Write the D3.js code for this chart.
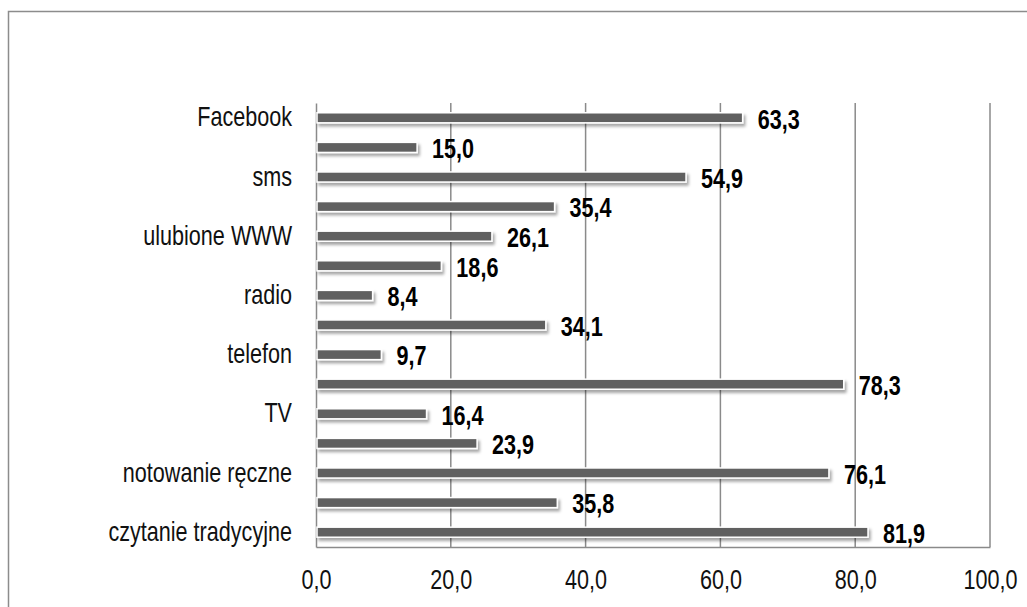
<!DOCTYPE html>
<html>
<head>
<meta charset="utf-8">
<script src="https://cdn.jsdelivr.net/npm/d3@7"></script>
<style>
  html, body { margin: 0; padding: 0; background: #fff; }
  svg { display: block; }
  text { font-family: "Liberation Sans", Arial, sans-serif; }
</style>
</head>
<body>
<svg id="chart" width="1027" height="607"></svg>
<script>
// Category labels, top to bottom (only every other row carries a label)
const categories = [
  "Facebook", "", "sms", "", "ulubione WWW", "", "radio", "",
  "telefon", "", "TV", "", "notowanie ręczne", "", "czytanie tradycyjne"
];
// Percent values, top to bottom
const values = [63.3, 15.0, 54.9, 35.4, 26.1, 18.6, 8.4, 34.1, 9.7, 78.3, 16.4, 23.9, 76.1, 35.8, 81.9];
// Value axis ticks
const xTicks = [0, 20, 40, 60, 80, 100];

const fmt = v => d3.format(".1f")(v).replace(".", ",");
const NARROW = 0.8;   // horizontal squeeze for a condensed look

const svg = d3.select("#chart");
const plot = { left: 316, right: 990, top: 103, bottom: 547 };

// Outer chart frame (runs past the right and bottom edges)
svg.append("rect")
  .attr("x", 8.5).attr("y", 11.5)
  .attr("width", 1040).attr("height", 640)
  .attr("fill", "#fff").attr("stroke", "#8c8c8c").attr("stroke-width", 1.5);

const defs = svg.append("defs");
const f = defs.append("filter").attr("id", "barShadow")
  .attr("x", "-5%").attr("y", "-60%").attr("width", "115%").attr("height", "260%");
f.append("feDropShadow")
  .attr("dx", 2).attr("dy", 3).attr("stdDeviation", 1.6)
  .attr("flood-color", "#000").attr("flood-opacity", 0.35);

const x = d3.scaleLinear().domain([0, 100]).range([plot.left, plot.right]);
const y = d3.scaleBand().domain(d3.range(values.length))
  .range([plot.top, plot.bottom]).paddingInner(0.66).paddingOuter(0.33);

// Vertical gridlines
svg.append("g")
  .selectAll("line")
  .data(xTicks.filter(t => t > 0))
  .join("line")
  .attr("x1", d => x(d)).attr("x2", d => x(d))
  .attr("y1", plot.top).attr("y2", plot.bottom)
  .attr("stroke", "#8a8a8a").attr("stroke-width", 1.5);

// Value axis
const xAxis = svg.append("g")
  .attr("transform", `translate(0,${plot.bottom})`)
  .call(d3.axisBottom(x).tickValues(xTicks).tickFormat(fmt).tickSize(0).tickPadding(23));
xAxis.select(".domain").attr("stroke", "#8a8a8a").attr("stroke-width", 1.5);
xAxis.selectAll("text")
  .attr("font-size", 27).attr("fill", "#111")
  .attr("transform", `scale(${NARROW},1)`);

// Category axis
const yAxis = svg.append("g")
  .attr("transform", `translate(${plot.left},0)`)
  .call(d3.axisLeft(y).tickFormat(i => categories[i]).tickSize(0).tickPadding(24));
yAxis.select(".domain").attr("stroke", "#8a8a8a").attr("stroke-width", 1.5);
yAxis.selectAll("text")
  .attr("font-size", 27).attr("fill", "#111")
  .attr("x", -24 / NARROW)
  .attr("transform", `scale(${NARROW},1)`);

// Bars
svg.append("g")
  .selectAll("rect")
  .data(values)
  .join("rect")
  .attr("x", x(0) + 1)
  .attr("y", (d, i) => y(i))
  .attr("width", d => x(d) - x(0) - 1)
  .attr("height", y.bandwidth())
  .attr("fill", "#606060")
  .attr("stroke", "#fff").attr("stroke-width", 1.5)
  .attr("filter", "url(#barShadow)");

// Value labels
svg.append("g")
  .selectAll("text")
  .data(values)
  .join("text")
  .attr("transform", (d, i) =>
    `translate(${x(d) + 15},${y(i) + y.bandwidth() / 2 + 1}) scale(${NARROW},1)`)
  .attr("dy", "0.36em")
  .attr("font-size", 27).attr("font-weight", "bold").attr("fill", "#000")
  .text(fmt);
</script>
</body>
</html>
